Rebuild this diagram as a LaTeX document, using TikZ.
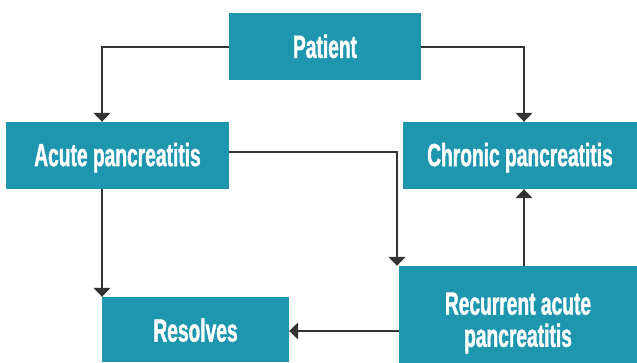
\documentclass[tikz,border=0pt]{standalone}
\usepackage{fontspec}
\setmainfont{Liberation Sans}
\newfontfamily\boxfont[FakeStretch=0.6,FakeBold=1.2]{Liberation Sans Bold}
\usetikzlibrary{arrows.meta}
\definecolor{teal1}{HTML}{1E96AE}
\definecolor{lin}{HTML}{333333}
\tikzset{
  x=1pt,y=-1pt,
  box/.style={fill=teal1, draw=none, text=white, font=\boxfont\fontsize{32}{30}\selectfont, inner sep=0pt, align=center, text depth=2pt},
  conn/.style={draw=lin, line width=1.2pt, -{Triangle[width=17pt,length=9pt]}},
}
\begin{document}
\begin{tikzpicture}
\useasboundingbox (0,0) rectangle (637,363);
\node[box, minimum width=192pt, minimum height=67pt] (pat) at (325,46.5) {\raisebox{-1.5pt}{Patient}};
\node[box, minimum width=223pt, minimum height=67pt] (acu) at (117.5,155.5) {Acute pancreatitis};
\node[box, minimum width=234pt, minimum height=67pt] (chr) at (520,155.5) {Chronic pancreatitis};
\node[box, minimum width=187pt, minimum height=65pt] (res) at (195.5,329.5) {\raisebox{-3pt}{Resolves}};
\node[box, minimum width=238pt, minimum height=97pt] (rec) at (518,314.5) {\raisebox{4pt}{\begin{tabular}{@{}c@{}}Recurrent acute\\pancreatitis\end{tabular}}};
\coordinate (c1) at (102,47);
\coordinate (c2) at (524,47);
\coordinate (c3) at (397,152);
\draw[conn] (pat.west |- c1) -- (c1) -- (c1 |- acu.north);
\draw[conn] (pat.east |- c2) -- (c2) -- (c2 |- chr.north);
\draw[conn] (acu.east |- c3) -- (c3) -- (c3 |- rec.north);
\draw[conn] (c1 |- acu.south) -- (c1 |- res.north);
\draw[conn] (rec.west |- 0,331) -- (res.east |- 0,331);
\draw[conn] (c2 |- rec.north) -- (c2 |- chr.south);
\end{tikzpicture}
\end{document}
